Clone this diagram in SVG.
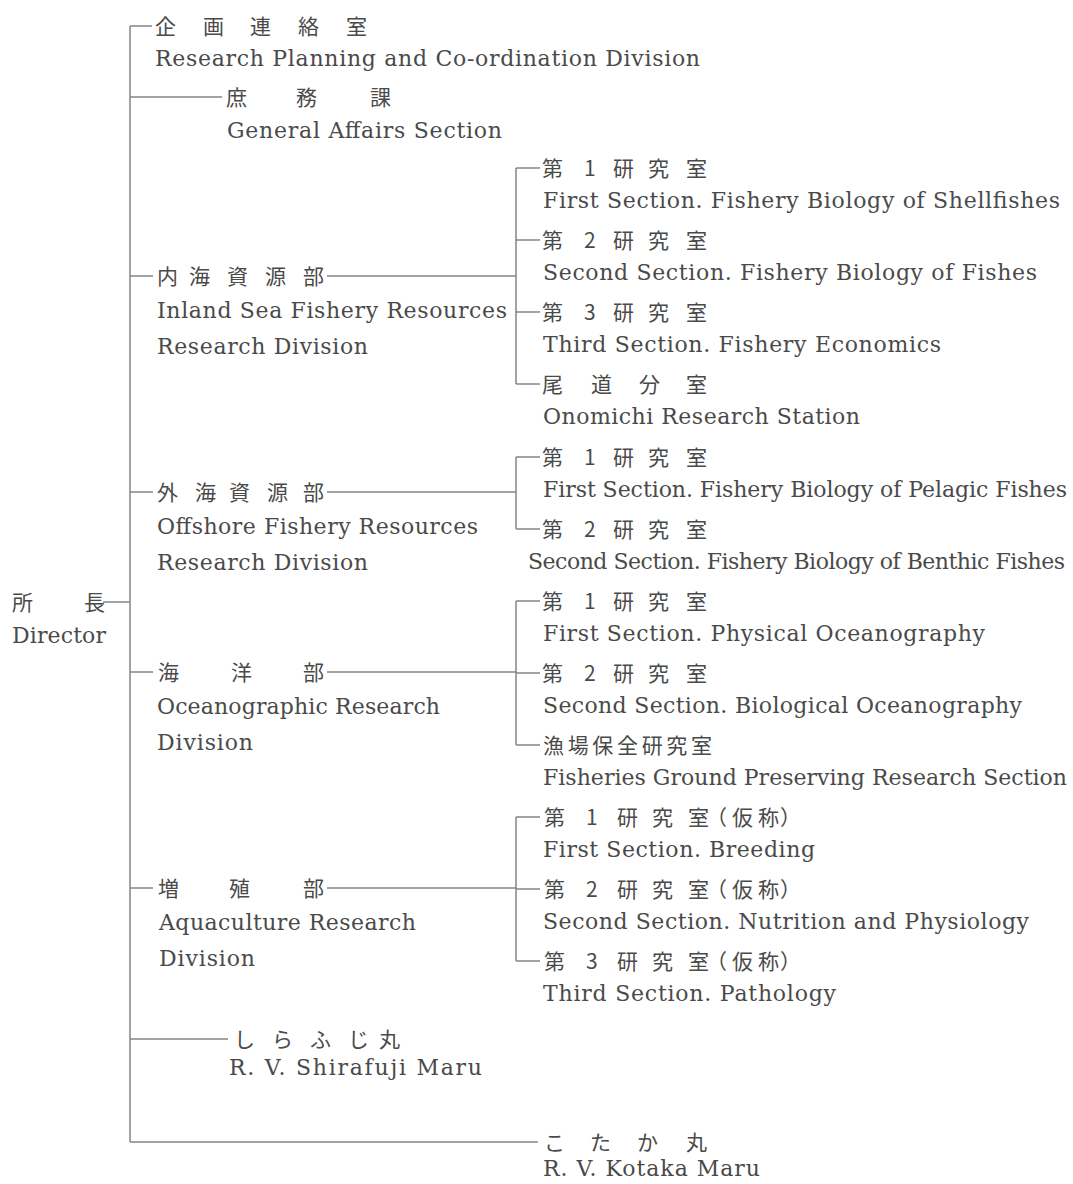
<svg xmlns="http://www.w3.org/2000/svg" width="1073" height="1184" viewBox="0 0 1073 1184">
<style>
.en{font-family:"DejaVu Serif","Liberation Serif",serif;font-size:22px;fill:#4a4a4a}
.jp{font-family:"Noto Sans CJK JP","Noto Sans CJK SC",sans-serif;font-size:21px;fill:#4a4a4a}
.ln{stroke:#858585;stroke-width:1.5;fill:none}
</style>
<rect width="1073" height="1184" fill="#ffffff"/>
<g id="connectors" class="ln">
<path d="M130 26V1142"/>
<path d="M130 26H152"/>
<path d="M130 97H222"/>
<path d="M130 276H153M327 276H516"/>
<path d="M130 492H153M327 492H516"/>
<path d="M103 602H130"/>
<path d="M130 672H153M327 672H516"/>
<path d="M130 888H153M327 888H516"/>
<path d="M130 1039H228"/>
<path d="M130 1142H538"/>
<path d="M516 168V384M516 168H540M516 240H540M516 312H540M516 384H540"/>
<path d="M516 457V529M516 457H540M516 529H540"/>
<path d="M516 601V745M516 601H540M516 673H540M516 745H540"/>
<path d="M516 817V961M516 817H540M516 889H540M516 961H540"/>
</g>
<g id="director">
<text class="jp" x="12 84" y="610">所長</text>
<text class="en" x="12" y="643" textLength="94" lengthAdjust="spacing">Director</text>
</g>
<g id="planning">
<text class="jp" x="155 203 250 298 346" y="34">企画連絡室</text>
<text class="en" x="155" y="66" textLength="545" lengthAdjust="spacing">Research Planning and Co-ordination Division</text>
</g>
<g id="general-affairs">
<text class="jp" x="226 296 370" y="105">庶務課</text>
<text class="en" x="227" y="138" textLength="275" lengthAdjust="spacing">General Affairs Section</text>
</g>
<g id="inland-division">
<text class="jp" x="157 189 227 265 303" y="284">内海資源部</text>
<text class="en" x="157" y="318" textLength="350" lengthAdjust="spacing">Inland Sea Fishery Resources</text>
<text class="en" x="157" y="354" textLength="211" lengthAdjust="spacing">Research Division</text>
</g>
<g id="inland-1">
<text class="jp" x="542 584 613 648 686" y="176">第1研究室</text>
<text class="en" x="543" y="208" textLength="517" lengthAdjust="spacing">First Section. Fishery Biology of Shellfishes</text>
</g>
<g id="inland-2">
<text class="jp" x="542 584 613 648 686" y="248">第2研究室</text>
<text class="en" x="543" y="280" textLength="494" lengthAdjust="spacing">Second Section. Fishery Biology of Fishes</text>
</g>
<g id="inland-3">
<text class="jp" x="542 584 613 648 686" y="320">第3研究室</text>
<text class="en" x="543" y="352" textLength="398" lengthAdjust="spacing">Third Section. Fishery Economics</text>
</g>
<g id="onomichi">
<text class="jp" x="542 591 639 686" y="392">尾道分室</text>
<text class="en" x="543" y="424" textLength="317" lengthAdjust="spacing">Onomichi Research Station</text>
</g>
<g id="offshore-division">
<text class="jp" x="157 195 229 267 303" y="500">外海資源部</text>
<text class="en" x="157" y="534" textLength="321" lengthAdjust="spacing">Offshore Fishery Resources</text>
<text class="en" x="157" y="570" textLength="211" lengthAdjust="spacing">Research Division</text>
</g>
<g id="offshore-1">
<text class="jp" x="542 584 613 648 686" y="465">第1研究室</text>
<text class="en" x="543" y="497" textLength="524" lengthAdjust="spacing">First Section. Fishery Biology of Pelagic Fishes</text>
</g>
<g id="offshore-2">
<text class="jp" x="542 584 613 648 686" y="537">第2研究室</text>
<text class="en" x="528" y="569" textLength="537" lengthAdjust="spacing">Second Section. Fishery Biology of Benthic Fishes</text>
</g>
<g id="ocean-division">
<text class="jp" x="158 231 303" y="680">海洋部</text>
<text class="en" x="157" y="714" textLength="283" lengthAdjust="spacing">Oceanographic Research</text>
<text class="en" x="157" y="750" textLength="96" lengthAdjust="spacing">Division</text>
</g>
<g id="ocean-1">
<text class="jp" x="542 584 613 648 686" y="609">第1研究室</text>
<text class="en" x="543" y="641" textLength="442" lengthAdjust="spacing">First Section. Physical Oceanography</text>
</g>
<g id="ocean-2">
<text class="jp" x="542 584 613 648 686" y="681">第2研究室</text>
<text class="en" x="543" y="713" textLength="479" lengthAdjust="spacing">Second Section. Biological Oceanography</text>
</g>
<g id="ocean-3">
<text class="jp" x="543" y="753" textLength="169" lengthAdjust="spacing">漁場保全研究室</text>
<text class="en" x="543" y="785" textLength="524" lengthAdjust="spacing">Fisheries Ground Preserving Research Section</text>
</g>
<g id="aqua-division">
<text class="jp" x="158 229 303" y="896">増殖部</text>
<text class="en" x="159" y="930" textLength="257" lengthAdjust="spacing">Aquaculture Research</text>
<text class="en" x="159" y="966" textLength="96" lengthAdjust="spacing">Division</text>
</g>
<g id="aqua-1">
<text class="jp" x="544 586 617 652 688 706 732 758 780" y="825">第1研究室（仮称）</text>
<text class="en" x="543" y="857" textLength="272" lengthAdjust="spacing">First Section. Breeding</text>
</g>
<g id="aqua-2">
<text class="jp" x="544 586 617 652 688 706 732 758 780" y="897">第2研究室（仮称）</text>
<text class="en" x="543" y="929" textLength="486" lengthAdjust="spacing">Second Section. Nutrition and Physiology</text>
</g>
<g id="aqua-3">
<text class="jp" x="544 586 617 652 688 706 732 758 780" y="969">第3研究室（仮称）</text>
<text class="en" x="543" y="1001" textLength="293" lengthAdjust="spacing">Third Section. Pathology</text>
</g>
<g id="shirafuji">
<text class="jp" x="234 272 310 348 379" y="1047">しらふじ丸</text>
<text class="en" x="229" y="1075" textLength="253" lengthAdjust="spacing">R. V. Shirafuji Maru</text>
</g>
<g id="kotaka">
<text class="jp" x="544 590 637 686" y="1150">こたか丸</text>
<text class="en" x="543" y="1176" textLength="217" lengthAdjust="spacing">R. V. Kotaka Maru</text>
</g>
</svg>
